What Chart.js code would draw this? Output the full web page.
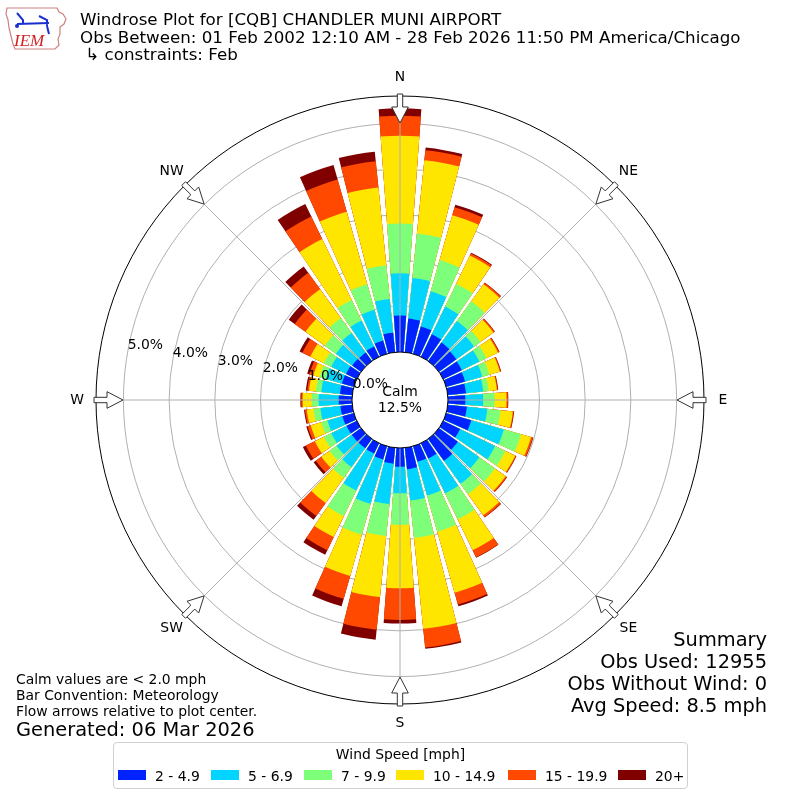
<!DOCTYPE html>
<html>
<head>
<meta charset="utf-8">
<title>Windrose CQB</title>
<script src="https://cdn.jsdelivr.net/npm/chart.js@4.4.1/dist/chart.umd.min.js"></script>
<style>
  body { margin: 0; background: #fff; font-family: "DejaVu Sans", sans-serif; color: #000; }
  #wrap { position: relative; width: 800px; height: 800px; overflow: hidden; }
  #rose { position: absolute; left: 0; top: 0; }
  .txt { position: absolute; white-space: pre; line-height: 1; }
  .ttl { font-size: 16.7px; left: 80px; }
  .sum { font-size: 19.4px; right: 33px; text-align: right; }
  .note { font-size: 13.9px; left: 16px; }
  #legend { position: absolute; left: 113px; top: 742px; width: 575px; height: 47px;
            border: 1px solid #d0d0d0; border-radius: 4px; box-sizing: border-box; font-size: 13.9px; }
  #legend .lt { position: absolute; left: 0; width: 100%; top: 3px; text-align: center; }
  #legend .sw { position: absolute; top: 27px; width: 28px; height: 10px; }
  #legend .lb { position: absolute; top: 25px; }
</style>
</head>
<body>
<div id="wrap">
  <canvas id="rose" width="800" height="800"></canvas>

  <svg style="position:absolute;left:3px;top:4px" width="66" height="48" viewBox="0 0 66 48">
    <path d="M4 4 L54 4 L56 8 L60 10 L63 15 L61 20 L57 23 L57 30 L55 35 L56 41 L52 45 L12 45 L10 40 L8 32 L6 24 L5 16 L3 10 Z"
          fill="#fff" stroke="#d08080" stroke-width="1.2"/>
    <path d="M14 9 L20 16 L20 20 M14 20 L46 19 M36 12 L44 16 L44 22 M44 22 L46 30" fill="none" stroke="#1a2fd0" stroke-width="2"/>
    <circle cx="14" cy="22" r="2" fill="#1a2fd0"/>
    <text x="11" y="42" font-family="Liberation Serif, serif" font-style="italic" font-size="17" fill="#d02020">IEM</text>
  </svg>

  <div class="txt ttl" style="top:11px">Windrose Plot for [CQB] CHANDLER MUNI AIRPORT</div>
  <div class="txt ttl" style="top:29px">Obs Between: 01 Feb 2002 12:10 AM - 28 Feb 2026 11:50 PM America/Chicago</div>
  <div class="txt ttl" style="top:46px"> ↳ constraints: Feb</div>

  <div class="txt sum" style="top:630px">Summary</div>
  <div class="txt sum" style="top:652px">Obs Used: 12955</div>
  <div class="txt sum" style="top:674px">Obs Without Wind: 0</div>
  <div class="txt sum" style="top:696px">Avg Speed: 8.5 mph</div>

  <div class="txt note" style="top:673px">Calm values are &lt; 2.0 mph</div>
  <div class="txt note" style="top:689px">Bar Convention: Meteorology</div>
  <div class="txt note" style="top:705px">Flow arrows relative to plot center.</div>
  <div class="txt note" style="top:720px;font-size:19.4px">Generated: 06 Mar 2026</div>

  <div id="legend"><div class="lt">Wind Speed [mph]</div></div>
</div>

<script>
// direction bins (degrees, meteorological, 10 degree sectors)
const directions = [0, 10, 20, 30, 40, 50, 60, 70, 80, 90, 100, 110, 120, 130, 140, 150, 160, 170,
                    180, 190, 200, 210, 220, 230, 240, 250, 260, 270, 280, 290, 300, 310, 320, 330, 340, 350]

// frequency (%) for each speed bin, one value per direction
const spd2to5 = [0.80, 0.74, 0.62, 0.55, 0.50, 0.47, 0.45, 0.43, 0.40, 0.38, 0.42, 0.57, 0.41, 0.51, 0.59, 0.37, 0.35, 0.47,
                 0.41, 0.35, 0.30, 0.25, 0.25, 0.25, 0.25, 0.26, 0.26, 0.29, 0.27, 0.27, 0.26, 0.24, 0.23, 0.25, 0.30, 0.43]
const spd5to7 = [0.92, 0.89, 0.80, 0.67, 0.58, 0.48, 0.43, 0.39, 0.38, 0.39, 0.45, 0.74, 0.85, 0.58, 0.62, 0.85, 0.77, 0.69,
                 0.58, 0.89, 1.01, 0.90, 0.51, 0.41, 0.37, 0.34, 0.44, 0.44, 0.41, 0.37, 0.36, 0.44, 0.53, 0.63, 0.70, 0.74]
const spd7to10 = [1.09, 0.98, 0.71, 0.55, 0.53, 0.17, 0.17, 0.16, 0.12, 0.25, 0.29, 0.39, 0.25, 0.42, 0.28, 0.63, 0.82, 0.82,
                  0.69, 0.70, 0.70, 0.62, 0.29, 0.19, 0.18, 0.14, 0.15, 0.15, 0.12, 0.14, 0.18, 0.30, 0.40, 0.50, 0.58, 0.74]
const spd10to15 = [1.92, 1.61, 1.02, 0.69, 0.46, 0.35, 0.28, 0.24, 0.18, 0.26, 0.27, 0.23, 0.24, 0.29, 0.57, 0.75, 1.39, 2.00,
                   1.39, 1.34, 0.94, 0.51, 0.68, 0.22, 0.22, 0.24, 0.15, 0.20, 0.15, 0.14, 0.33, 0.52, 0.78, 1.48, 1.65, 1.71]
const spd15to20 = [0.44, 0.22, 0.18, 0.05, 0.04, 0.03, 0.03, 0.02, 0.02, 0.03, 0.02, 0.04, 0.02, 0.03, 0.05, 0.17, 0.27, 0.41,
                   0.69, 0.72, 0.52, 0.32, 0.35, 0.15, 0.22, 0.07, 0.04, 0.03, 0.04, 0.09, 0.19, 0.29, 0.44, 0.55, 0.73, 0.58]
const spd20plus = [0.16, 0.06, 0.06, 0.02, 0.01, 0.01, 0.01, 0.01, 0.01, 0.01, 0.01, 0.01, 0.01, 0.01, 0.01, 0.01, 0.04, 0.03,
                   0.08, 0.22, 0.17, 0.11, 0.10, 0.06, 0.07, 0.03, 0.02, 0.02, 0.03, 0.05, 0.07, 0.16, 0.17, 0.30, 0.33, 0.21]

const speedLabels = ['2 - 4.9', '5 - 6.9', '7 - 9.9', '10 - 14.9', '15 - 19.9', '20+']
const speedColors = ['#0022ff', '#00d4ff', '#7dff7a', '#ffe600', '#ff4800', '#800000']
const radialTicks = [0, 1, 2, 3, 4, 5]
const compassLabels = ['N', 'NE', 'E', 'SE', 'S', 'SW', 'W', 'NW']
const calmPercent = 12.5

const R_MIN = -1.05, R_MAX = 5.60   // negative min leaves the calm hole in the middle
const BAR_DEG = 8.4, GAP_DEG = 10 - BAR_DEG

const speedSeries = [spd2to5, spd5to7, spd7to10, spd10to15, spd15to20, spd20plus]

// each bar is stacked by drawing cumulative totals, biggest first (dataset 0 ends on top)
const datasets = speedSeries.map((series, j) => {
    const data = []
    directions.forEach((d, i) => {
        let cum = 0
        for (let k = 0; k <= j; k++) cum += speedSeries[k][i]
        data.push(cum)
        data.push(R_MIN) // gap between sectors
    })
    return {
        label: speedLabels[j],
        data: data,
        backgroundColor: ctx => ctx.dataIndex % 2 === 0 ? speedColors[j] : 'rgba(0,0,0,0)',
        borderWidth: 0,
        angle: ctx => ctx.dataIndex % 2 === 0 ? BAR_DEG : GAP_DEG
    }
})

const labels = []
directions.forEach(d => { labels.push(d + '°'); labels.push('') })

const roseDecor = {
    id: 'roseDecor',
    afterDraw(chart) {
        const s = chart.scales.r
        const ctx = chart.ctx
        const cx = s.xCenter, cy = s.yCenter, R = s.drawingArea
        const pt = (bearing, r) => {
            const a = bearing * Math.PI / 180
            return [cx + r * Math.sin(a), cy - r * Math.cos(a)]
        }
        ctx.save()

        // spokes every 45 degrees
        ctx.strokeStyle = '#b0b0b0'
        ctx.lineWidth = 1
        for (let k = 0; k < 8; k++) {
            const p = pt(k * 45, R)
            ctx.beginPath(); ctx.moveTo(cx, cy); ctx.lineTo(p[0], p[1]); ctx.stroke()
        }

        // outer frame
        ctx.strokeStyle = '#000'
        ctx.beginPath(); ctx.arc(cx, cy, R, 0, Math.PI * 2); ctx.stroke()

        // calm circle
        const r0 = s.getDistanceFromCenterForValue(0)
        ctx.fillStyle = '#fff'
        ctx.beginPath(); ctx.arc(cx, cy, r0, 0, Math.PI * 2); ctx.fill(); ctx.stroke()

        ctx.fillStyle = '#000'
        ctx.font = '13.9px "DejaVu Sans"'
        ctx.textAlign = 'center'
        ctx.textBaseline = 'middle'
        ctx.fillText('Calm', cx, cy - 8)
        ctx.fillText(calmPercent.toFixed(1) + '%', cx, cy + 8)

        // radial tick labels
        ctx.textAlign = 'left'
        ctx.textBaseline = 'bottom'
        radialTicks.forEach(v => {
            const p = pt(280, s.getDistanceFromCenterForValue(v))
            ctx.fillText(v.toFixed(1) + '%', p[0], p[1])
        })

        // compass labels and flow arrows
        ctx.textAlign = 'center'
        ctx.textBaseline = 'middle'
        compassLabels.forEach((lab, k) => {
            const b = k * 45
            const lp = pt(b, R + 19)
            ctx.fillText(lab, lp[0], lp[1])

            const a = b * Math.PI / 180
            const ux = -Math.sin(a), uy = Math.cos(a)   // inward
            const vx = Math.cos(a), vy = Math.sin(a)
            const tail = pt(b, R + 2)
            const shape = [[0, -2.7], [13, -2.7], [13, -8.3], [29, 0], [13, 8.3], [13, 2.7], [0, 2.7]]
            ctx.beginPath()
            shape.forEach((q, i) => {
                const x = tail[0] + ux * q[0] + vx * q[1]
                const y = tail[1] + uy * q[0] + vy * q[1]
                if (i === 0) ctx.moveTo(x, y); else ctx.lineTo(x, y)
            })
            ctx.closePath()
            ctx.fillStyle = '#fff'
            ctx.fill()
            ctx.strokeStyle = '#333'
            ctx.stroke()
            ctx.fillStyle = '#000'
        })
        ctx.restore()
    }
}

new Chart(document.getElementById('rose'), {
    type: 'polarArea',
    data: { labels: labels, datasets: datasets },
    options: {
        responsive: false,
        animation: false,
        layout: { padding: 96 },
        plugins: { legend: { display: false }, tooltip: { enabled: false } },
        scales: {
            r: {
                min: R_MIN,
                max: R_MAX,
                startAngle: -BAR_DEG / 2,
                z: 1,
                ticks: { display: false },
                grid: { color: '#b0b0b0', lineWidth: 1, circular: true },
                angleLines: { display: false },
                pointLabels: { display: false },
                afterBuildTicks: axis => { axis.ticks = radialTicks.map(v => ({ value: v })) }
            }
        }
    },
    plugins: [roseDecor]
})

// legend row
const legendDiv = document.getElementById('legend')
const swatchX = [4, 97, 190, 282, 394, 504]
speedLabels.forEach((lab, j) => {
    const sw = document.createElement('div')
    sw.className = 'sw'
    sw.style.left = swatchX[j] + 'px'
    sw.style.background = speedColors[j]
    legendDiv.appendChild(sw)
    const lb = document.createElement('div')
    lb.className = 'lb'
    lb.style.left = (swatchX[j] + 37) + 'px'
    lb.textContent = lab
    legendDiv.appendChild(lb)
})
</script>
</body>
</html>
